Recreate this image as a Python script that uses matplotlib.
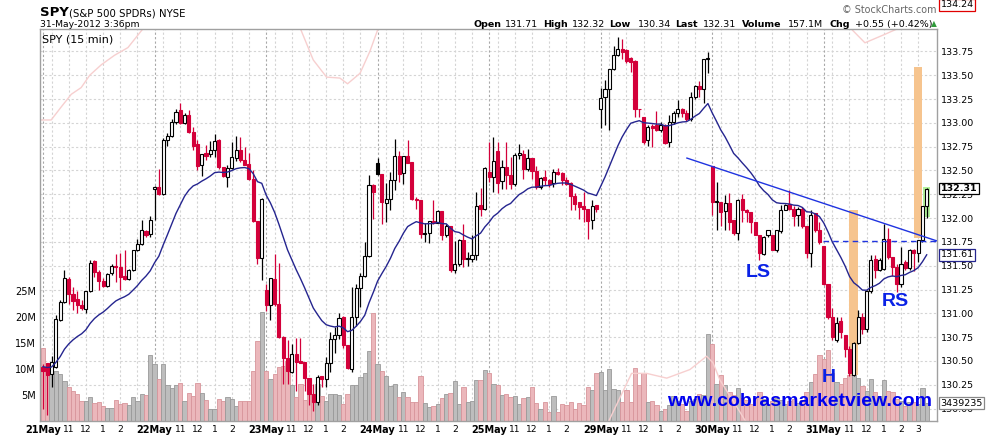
import numpy as np
import matplotlib
matplotlib.use("Agg")
import matplotlib.pyplot as plt
from matplotlib.patches import Rectangle
from matplotlib.transforms import blended_transform_factory, Affine2D

# --- data (15 min bars, 26 per day, 31May up to 15:30) ---
days = ["21May", "22May", "23May", "24May", "25May", "29May", "30May", "31May"]
bars_per_day = 26
hour_labels = ["11", "12", "1", "2", "3"]
hour_offsets = [6, 10, 14, 18, 22]

opens = [
    130.44, 130.48, 130.36, 130.44, 130.93, 131.12, 131.36, 131.20, 131.15, 131.09, 131.05, 131.23, 131.55,
    131.43, 131.34, 131.29, 131.42, 131.50, 131.49, 131.39, 131.36, 131.45, 131.66, 131.73, 131.86, 131.83,
    132.31, 132.33, 132.25, 132.82, 132.86, 133.01, 133.13, 133.00, 133.08, 132.90, 132.78, 132.56, 132.68,
    132.67, 132.72, 132.82, 132.54, 132.43, 132.53, 132.63, 132.71, 132.61, 132.57, 132.41, 131.97, 131.58,
    131.25, 131.09, 131.36, 131.10, 130.75, 130.53, 130.38, 130.57, 130.50, 130.49, 130.32, 130.15, 130.07,
    130.34, 130.31, 130.48, 130.73, 130.77, 130.96, 130.67, 130.42, 130.96, 131.27, 131.39, 131.60, 132.35,
    132.58, 132.46, 132.16, 132.20, 132.40, 132.65, 132.47, 132.65, 132.59, 132.20, 132.19, 131.83, 131.84,
    131.97, 131.95, 132.07, 131.82, 131.92, 131.45, 131.52, 131.77, 131.57, 131.57, 131.61, 132.14, 132.10,
    132.48, 132.43, 132.70, 132.39, 132.54, 132.45, 132.36, 132.66, 132.67, 132.52, 132.63, 132.49, 132.33,
    132.43, 132.40, 132.37, 132.48, 132.47, 132.40, 132.37, 132.23, 132.17, 132.13, 132.10, 131.98, 132.14,
    133.15, 133.27, 133.35, 133.57, 133.71, 133.78, 133.76, 133.68, 133.65, 133.15, 133.06, 132.82, 132.97,
    132.98, 132.93, 132.97, 132.80, 133.01, 133.10, 133.15, 133.10, 133.04, 133.27, 133.39, 133.36, 133.67,
    132.55, 132.17, 132.17, 132.07, 132.16, 131.98, 131.84, 132.20, 132.08, 132.06, 131.96, 131.82, 131.62,
    131.82, 131.82, 131.66, 131.86, 132.09, 132.15, 132.10, 132.03, 132.10, 131.92, 131.63, 132.05, 131.87,
    131.71, 131.31, 130.96, 130.72, 130.92, 130.77, 130.63, 130.35, 130.69, 130.96, 130.84, 131.23, 131.57,
    131.45, 131.47, 131.78, 131.59, 131.49, 131.31, 131.54, 131.48, 131.67, 131.63, 131.77, 132.13,
]
highs = [
    130.47, 130.48, 130.55, 130.98, 131.14, 131.46, 131.38, 131.28, 131.23, 131.14, 131.23, 131.56, 131.56,
    131.45, 131.37, 131.42, 131.52, 131.62, 131.63, 131.66, 131.47, 131.66, 131.78, 131.98, 131.88, 132.02,
    132.34, 132.52, 132.84, 132.89, 133.04, 133.14, 133.21, 133.10, 133.13, 132.96, 132.82, 132.67, 132.77,
    132.81, 132.88, 132.83, 132.54, 132.56, 132.80, 132.86, 132.85, 132.75, 132.68, 132.50, 131.97, 132.21,
    131.31, 131.37, 131.62, 131.53, 130.76, 130.72, 130.68, 130.74, 130.74, 130.49, 130.32, 130.26, 130.35,
    130.34, 130.54, 130.80, 130.86, 131.00, 130.97, 130.67, 131.28, 131.31, 131.42, 131.75, 132.45, 132.36,
    132.63, 132.46, 132.37, 132.48, 132.83, 132.70, 132.65, 132.82, 132.59, 132.22, 132.19, 131.95, 131.97,
    132.19, 132.09, 132.07, 131.94, 131.92, 131.76, 131.78, 131.94, 131.64, 131.82, 132.27, 132.32, 132.54,
    132.80, 132.85, 132.80, 132.61, 132.80, 132.64, 132.68, 132.78, 132.71, 132.73, 132.63, 132.55, 132.43,
    132.50, 132.41, 132.52, 132.53, 132.48, 132.43, 132.38, 132.26, 132.17, 132.27, 132.10, 132.19, 132.14,
    133.37, 133.45, 133.57, 133.81, 133.90, 133.88, 133.78, 133.69, 133.66, 133.15, 133.06, 132.98, 132.99,
    133.12, 133.01, 132.99, 133.08, 133.12, 133.24, 133.16, 133.13, 133.32, 133.40, 133.44, 133.67, 133.74,
    132.55, 132.38, 132.17, 132.24, 132.26, 131.98, 132.20, 132.25, 132.10, 132.06, 131.96, 131.82, 131.81,
    131.88, 131.82, 131.88, 132.14, 132.15, 132.29, 132.13, 132.12, 132.12, 131.92, 132.08, 132.05, 131.96,
    131.71, 131.31, 131.06, 130.96, 130.96, 130.77, 130.66, 130.70, 131.03, 131.00, 131.25, 131.61, 131.61,
    131.58, 131.94, 131.90, 131.59, 131.52, 131.70, 131.56, 131.68, 131.68, 131.77, 132.13, 132.32,
]
lows = [
    130.00, 129.93, 130.23, 130.43, 130.92, 131.11, 131.10, 131.03, 131.00, 131.03, 131.00, 131.22, 131.38,
    131.24, 131.28, 131.28, 131.40, 131.33, 131.24, 131.35, 131.35, 131.44, 131.65, 131.72, 131.80, 131.80,
    131.98, 132.24, 132.24, 132.76, 132.85, 132.99, 132.99, 132.99, 132.89, 132.71, 132.50, 132.44, 132.61,
    132.64, 132.64, 132.52, 132.43, 132.33, 132.52, 132.60, 132.59, 132.56, 132.40, 131.96, 131.52, 131.35,
    131.02, 130.93, 131.08, 130.74, 130.26, 130.26, 130.37, 130.19, 130.48, 130.19, 130.04, 129.98, 130.04,
    130.23, 130.23, 130.38, 130.58, 130.73, 130.64, 130.42, 130.38, 130.87, 131.07, 131.38, 131.59, 131.99,
    132.45, 131.94, 131.96, 132.08, 132.30, 132.38, 132.36, 132.58, 132.19, 132.10, 131.79, 131.75, 131.74,
    131.94, 131.95, 131.77, 131.80, 131.43, 131.42, 131.50, 131.49, 131.50, 131.54, 131.56, 132.02, 132.09,
    132.38, 132.27, 132.26, 132.31, 132.31, 132.31, 132.34, 132.62, 132.41, 132.49, 132.41, 132.31, 132.31,
    132.35, 132.33, 132.33, 132.45, 132.35, 132.35, 132.08, 132.09, 131.99, 131.96, 131.78, 131.89, 132.06,
    132.95, 132.98, 132.93, 133.55, 133.70, 133.67, 133.63, 133.53, 133.06, 133.06, 132.78, 132.76, 132.75,
    132.91, 132.90, 132.78, 132.75, 132.99, 133.06, 133.06, 133.02, 133.02, 133.25, 133.27, 133.21, 133.52,
    132.03, 131.87, 131.92, 131.87, 131.87, 131.82, 131.77, 131.96, 131.96, 131.84, 131.82, 131.56, 131.61,
    131.80, 131.66, 131.64, 131.84, 132.08, 132.08, 131.92, 131.92, 131.90, 131.58, 131.49, 131.85, 131.73,
    131.30, 130.94, 130.72, 130.70, 130.74, 130.54, 130.34, 130.34, 130.68, 130.78, 130.80, 131.21, 131.37,
    131.44, 131.46, 131.57, 131.39, 131.22, 131.28, 131.45, 131.45, 131.44, 131.54, 131.75, 132.00,
]
closes = [
    130.40, 130.35, 130.49, 130.94, 131.12, 131.37, 131.20, 131.13, 131.09, 131.06, 131.23, 131.53, 131.43,
    131.34, 131.29, 131.41, 131.50, 131.49, 131.38, 131.36, 131.45, 131.66, 131.73, 131.87, 131.82, 131.98,
    132.33, 132.25, 132.82, 132.86, 133.01, 133.11, 133.00, 133.08, 132.90, 132.76, 132.55, 132.67, 132.65,
    132.72, 132.81, 132.54, 132.44, 132.53, 132.64, 132.71, 132.61, 132.56, 132.41, 131.97, 131.58, 132.20,
    131.09, 131.37, 131.10, 130.75, 130.53, 130.39, 130.57, 130.49, 130.48, 130.32, 130.15, 130.07, 130.33,
    130.31, 130.48, 130.73, 130.77, 130.95, 130.67, 130.43, 130.96, 131.27, 131.39, 131.60, 132.35, 132.27,
    132.46, 132.17, 132.20, 132.40, 132.65, 132.46, 132.65, 132.58, 132.20, 132.19, 131.83, 131.84, 131.97,
    131.95, 132.07, 131.82, 131.92, 131.45, 131.52, 131.77, 131.57, 131.58, 131.61, 132.13, 132.10, 132.53,
    132.43, 132.60, 132.37, 132.54, 132.45, 132.36, 132.66, 132.68, 132.52, 132.63, 132.49, 132.33, 132.42,
    132.40, 132.36, 132.48, 132.46, 132.40, 132.36, 132.23, 132.15, 132.12, 132.10, 131.97, 132.13, 132.10,
    133.26, 133.35, 133.57, 133.71, 133.78, 133.74, 133.65, 133.64, 133.15, 133.14, 132.80, 132.96, 132.95,
    132.93, 132.98, 132.79, 133.01, 133.10, 133.15, 133.10, 133.04, 133.27, 133.39, 133.36, 133.67, 133.68,
    132.17, 132.18, 132.06, 132.16, 131.96, 131.84, 132.19, 132.08, 132.06, 131.96, 131.82, 131.63, 131.80,
    131.87, 131.66, 131.87, 132.09, 132.14, 132.10, 132.02, 132.10, 131.92, 131.63, 132.03, 131.87, 131.75,
    131.31, 130.96, 130.75, 130.90, 130.80, 130.63, 130.37, 130.69, 130.96, 130.84, 131.23, 131.56, 131.46,
    131.56, 131.78, 131.59, 131.49, 131.31, 131.52, 131.48, 131.66, 131.63, 131.77, 132.13, 132.31,
]
volumes = [  # millions
    14.0, 9.8, 9.7, 9.7, 9.1, 7.6, 6.6, 5.8, 5.2, 3.9, 3.9, 4.6, 3.4, 3.6, 2.9, 2.5, 2.5, 4.0, 3.3, 3.4, 3.1, 4.6, 3.9, 5.2, 5.0, 12.6,
    10.9, 8.0, 10.9, 6.9, 6.4, 6.9, 7.3, 3.9, 5.3, 4.8, 7.4, 5.3, 4.0, 2.3, 2.3, 4.2, 3.9, 4.6, 4.2, 2.9, 3.9, 3.8, 3.9, 9.6, 15.4, 21.0,
    9.6, 8.0, 9.1, 10.3, 10.5, 11.6, 6.9, 4.6, 7.2, 4.0, 8.0, 5.0, 7.1, 4.8, 3.8, 5.2, 5.2, 5.0, 3.3, 5.2, 6.9, 6.9, 8.4, 9.3, 13.5, 20.8,
    11.0, 9.7, 8.6, 6.7, 7.2, 4.6, 5.5, 4.6, 3.6, 3.6, 8.6, 3.4, 2.7, 2.9, 3.3, 4.5, 5.2, 5.3, 7.6, 3.3, 6.6, 3.6, 3.8, 7.8, 7.9, 9.9,
    9.2, 7.1, 6.9, 5.0, 5.2, 4.7, 4.8, 3.3, 4.5, 4.7, 6.6, 3.5, 2.4, 3.6, 1.7, 4.8, 1.8, 3.2, 3.0, 3.7, 2.3, 3.5, 3.0, 6.6, 5.9, 9.2,
    9.5, 5.9, 10.0, 6.2, 6.0, 3.6, 5.9, 3.7, 10.2, 7.0, 9.2, 3.7, 3.8, 3.0, 2.0, 2.3, 3.0, 4.9, 3.8, 3.2, 2.0, 3.9, 4.2, 5.1, 5.0, 16.8,
    14.8, 7.1, 8.8, 7.0, 5.5, 5.0, 6.4, 4.5, 4.0, 3.2, 4.5, 5.5, 4.2, 3.0, 3.8, 4.5, 4.0, 3.2, 3.8, 4.2, 3.5, 4.0, 5.5, 7.5, 9.0, 12.6,
    11.9, 13.7, 9.3, 7.5, 7.1, 8.3, 8.8, 11.2, 8.3, 6.7, 5.8, 8.1, 5.5, 4.8, 7.9, 5.8, 5.5, 4.2, 3.9, 2.9, 3.6, 3.6, 3.3, 6.4, 3.439235,
]
ma_start = 130.44  # value of the moving average at the first bar
ma_period = 20
overlay_last = 134.24

# faint pink overlay (only the parts that fall inside the chart), nan = gap
overlay_x = [-0.7, 1.9, 4.3, 6.6, 8.9, 10.9, 13.6, 16.7, 19.8, 23.7, 26.0, np.nan,
             58.0, 59.9, 63.0, 66.1, 69.2, 71.0, 73.9, 76.2, 78.2, 80.0, np.nan,
             131.0, 132.0, 137.2, 140.7, 145.4, 150.8, 154.7, 156.2, 157.8, 161.7, 163.6, 165.0, np.nan,
             186.0, 188.1, 191.6, 196.3, 199.8, 206.0]
overlay_y = [133.03, 133.03, 133.17, 133.30, 133.37, 133.50, 133.61, 133.71, 133.79, 134.01, 134.20, np.nan,
             134.20, 134.00, 133.66, 133.48, 133.47, 133.41, 133.52, 133.75, 134.00, 134.20, np.nan,
             129.70, 129.88, 130.37, 130.37, 130.32, 130.41, 130.55, 130.48, 130.30, 130.02, 129.88, 129.70, np.nan,
             134.20, 134.00, 133.84, 133.93, 134.00, 134.24]

# drawn annotations (head and shoulders)
trend_x = [150.1, 208.4]
trend_y = [132.63, 131.76]
neck_x = [181.8, 208.4]
neck_y = 131.76
orange_bars = [(187.9, 189.9, 130.35, 132.08), (203.0, 205.0, 131.79, 133.59)]
green_box = (205.2, 206.8, 132.01, 132.33)
pattern_labels = [("LS", 166.7, 131.43), ("H", 183.2, 130.33), ("RS", 198.6, 131.12)]

header_items = [(473, "Open", True), (505, "131.71", False), (543, "High", True), (572, "132.32", False),
                (609, "Low", True), (638, "130.34", False), (675, "Last", True), (703, "132.31", False),
                (742, "Volume", True), (788, "157.1M", False), (829, "Chg", True), (855, "+0.55 (+0.42%)", False)]

# --- derived ---
n = len(closes)
idx = np.arange(n)
prev_close = [closes[i - 1] if i else opens[i] for i in range(n)]
down = [closes[i] < prev_close[i] for i in range(n)]

ma = [ma_start]
k = 2.0 / (ma_period + 1)
for c in closes[1:]:
    ma.append(ma[-1] + k * (c - ma[-1]))

RED = "#d3003a"
W, H = 990, 438
fig = plt.figure(figsize=(W / 100, H / 100), dpi=100)
ax = fig.add_axes([40 / W, 17 / H, 897 / W, 392 / H])
ax.set_xlim(-0.7, 208.4)
ax.set_ylim(129.87, 133.985)

vol_top = 75.4
vol_tr = blended_transform_factory(ax.transData, Affine2D().scale(1, 1 / vol_top) + ax.transAxes)

# grid
for p in np.arange(130.0, 133.76, 0.25):
    ax.axhline(p, color="#d4d4d4", lw=0.8, ls=(0, (2, 2)), zorder=0)
for d in range(len(days)):
    s = d * bars_per_day
    ax.axvline(s, color="#a8a8a8", lw=0.8, ls=(0, (2, 2)), zorder=0)
    for off in [2] + hour_offsets:
        ax.axvline(s + off, color="#d4d4d4", lw=0.8, ls=(0, (2, 2)), zorder=0)

# volume
vcol = ["#ebb7bb" if dn else "#bdbdbd" for dn in down]
vedge = ["#d8959b" if dn else "#999999" for dn in down]
ax.bar(idx, volumes, width=1.0, color=vcol, edgecolor=vedge, linewidth=0.6, transform=vol_tr, zorder=1)

# overlay + highlights
ax.plot(overlay_x, overlay_y, color="#f7cfcf", lw=1.0, zorder=1.5)
for x0, x1, y0, y1 in orange_bars:
    ax.add_patch(Rectangle((x0, y0), x1 - x0, y1 - y0, fc="#f6c48e", ec="none", zorder=1.6))
gx0, gx1, gy0, gy1 = green_box
ax.add_patch(Rectangle((gx0, gy0), gx1 - gx0, gy1 - gy0, fc="#b2f29b", ec="none", zorder=1.6))

# candles
bw = 0.72
for i in range(n):
    o, h, l, c = opens[i], highs[i], lows[i], closes[i]
    col = RED if down[i] else "black"
    ax.vlines(i, l, h, color=col, lw=0.9, zorder=3)
    hollow = c >= o
    bot = min(o, c)
    ht = max(abs(c - o), 0.006)
    ax.add_patch(Rectangle((i - bw / 2, bot), bw, ht, fc="white" if hollow else col,
                           ec=col, lw=0.8, zorder=4))

# moving average and trend lines
ax.plot(idx, ma, color="#25258f", lw=1.0, zorder=5)
ax.plot(trend_x, trend_y, color="#1f33e0", lw=1.0, zorder=5)
ax.plot(neck_x, [neck_y, neck_y], color="#1f33e0", lw=1.0, ls=(0, (4, 3)), zorder=5)

for txt, x, y in pattern_labels:
    ax.text(x, y, txt, color="#0a22e6", fontsize=14, fontweight="bold", family="Liberation Sans",
            ha="center", va="center", zorder=6)
ax.text(0.847, 0.049, "www.cobrasmarketview.com", transform=ax.transAxes, color="#0000ee",
        fontsize=14, fontweight="bold", family="Liberation Sans", ha="center", va="center", zorder=6)
ax.text(0.0025, 0.985, "SPY (15 min)", transform=ax.transAxes, fontsize=8, va="top", ha="left", zorder=6)

# volume scale labels (left) -- twinx first, it moves the host ticks to the left
axv = ax.twinx()
axv.set_ylim(0, vol_top)
axv.set_yticks([5, 10, 15, 20, 25])
axv.set_yticklabels(["5M", "10M", "15M", "20M", "25M"])
axv.yaxis.set_ticks_position("left")
axv.yaxis.set_label_position("left")
axv.tick_params(axis="y", length=0, pad=3, labelsize=7, labelleft=True, labelright=False)
for sp in axv.spines.values():
    sp.set_visible(False)

# axes styling
for sp in ax.spines.values():
    sp.set_color("#a0a0a0")
    sp.set_linewidth(1.0)
yt = np.arange(130.0, 133.76, 0.25)
ax.set_yticks(yt)
ax.set_yticklabels([f"{v:.2f}" for v in yt])
ax.yaxis.set_ticks_position("right")
ax.tick_params(axis="y", length=0, pad=3, labelsize=6.8, labelleft=False, labelright=True)

xt, xl, xb = [], [], []
for d, name in enumerate(days):
    s = d * bars_per_day
    xt.append(s); xl.append(name); xb.append(True)
    offs = hour_offsets if d == len(days) - 1 else hour_offsets[:4]
    for off, lab in zip(offs, hour_labels):
        xt.append(s + off); xl.append(lab); xb.append(False)
ax.set_xticks(xt)
ax.set_xticklabels(xl)
ax.tick_params(axis="x", length=0, pad=3, labelsize=6.6)
for t, b in zip(ax.get_xticklabels(), xb):
    if b:
        t.set_fontweight("bold")
        t.set_fontsize(7)

# right side value tags
ytr = blended_transform_factory(ax.transAxes, ax.transData)
vtr = blended_transform_factory(ax.transAxes, axv.transData)
tags = [(overlay_last, f"{overlay_last:.2f}", "#e00000", "normal", ytr),
        (closes[-1], f"{closes[-1]:.2f}", "black", "bold", ytr),
        (ma[-1], f"{ma[-1]:.2f}", "#25258f", "normal", ytr),
        (volumes[-1], f"{int(round(volumes[-1] * 1e6))}", "#888888", "normal", vtr)]
for y, txt, ec, fw, tr in tags:
    axv.text(1.004, y, txt, transform=tr, fontsize=6.8, fontweight=fw, ha="left", va="center",
             bbox=dict(boxstyle="square,pad=0.15", fc="white", ec=ec, lw=0.9), zorder=10, clip_on=False)

# header
fig.text(40 / W, 1 - 16 / H, "SPY", fontsize=9.5, fontweight="bold", va="baseline")
fig.text(69 / W, 1 - 16 / H, "(S&P 500 SPDRs) NYSE", fontsize=7.3, va="baseline")
fig.text(40 / W, 1 - 27 / H, "31-May-2012 3:36pm", fontsize=6.7, va="baseline")
fig.text(937 / W, 1 - 13 / H, "\u00a9 StockCharts.com", fontsize=6.9, color="#666666", ha="right", va="baseline")
for x, txt, b in header_items:
    fig.text(x / W, 1 - 27 / H, txt, fontsize=6.8, fontweight="bold" if b else "normal", va="baseline")
fig.text(931 / W, 1 - 26 / H, "\u25b2", fontsize=5.5, color="#2f9a3a", va="baseline")

fig.savefig("out.png", dpi=100)
